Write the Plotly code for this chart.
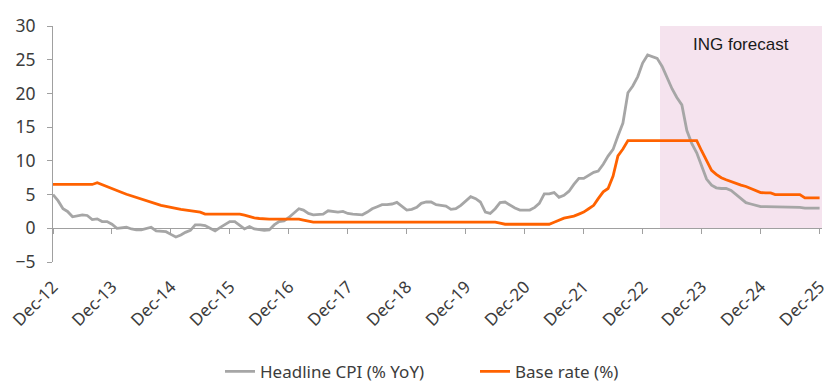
import pandas as pd
import plotly.graph_objects as go

# Monthly dates Dec-2012 .. Dec-2025
dates = pd.date_range("2012-12-01", "2025-12-01", freq="MS")

headline_cpi = [
    5.0,
    4.1, 2.9, 2.5, 1.7, 1.8, 2.0, 1.9, 1.3, 1.4, 1.0, 1.0, 0.6,
    0.0, 0.1, 0.15, -0.1, -0.25, -0.25, 0.0, 0.15, -0.4, -0.5, -0.5, -0.9,
    -1.3, -1.0, -0.6, -0.3, 0.5, 0.5, 0.4, 0.0, -0.4, 0.1, 0.6, 1.0,
    1.0, 0.4, -0.1, 0.25, -0.1, -0.2, -0.3, -0.25, 0.5, 1.0, 1.1, 1.6,
    2.3, 2.9, 2.7, 2.2, 2.0, 2.0, 2.1, 2.6, 2.5, 2.4, 2.5, 2.2,
    2.1, 2.0, 2.0, 2.4, 2.9, 3.2, 3.5, 3.5, 3.6, 3.85, 3.2, 2.7,
    2.8, 3.1, 3.7, 3.9, 3.9, 3.5, 3.4, 3.3, 2.8, 2.9, 3.4, 4.0,
    4.7, 4.4, 3.9, 2.4, 2.2, 2.9, 3.8, 3.9, 3.4, 3.0, 2.7, 2.7,
    2.7, 3.1, 3.7, 5.1, 5.1, 5.3, 4.6, 4.9, 5.5, 6.5, 7.4, 7.4,
    7.9, 8.3, 8.5, 9.5, 10.7, 11.7, 13.7, 15.6, 20.1, 21.1, 22.5, 24.5,
    25.7, 25.4, 25.2, 24.0, 22.3, 20.7, 19.4, 18.3, 14.5, 12.6, 11.2, 9.4,
    7.3, 6.4, 6.0, 5.9, 5.9, 5.6, 5.0, 4.4, 3.8, 3.6, 3.4, 3.2,
    3.2, 3.2, 3.2, 3.2, 3.2, 3.2, 3.2, 3.1, 3.0, 3.0, 3.0, 3.0,
]

base_rate = [
    6.5,
    6.5, 6.5, 6.5, 6.5, 6.5, 6.5, 6.5, 6.5, 6.75, 6.45, 6.1, 5.8,
    5.55, 5.3, 5.05, 4.8, 4.55, 4.3, 4.05, 3.8, 3.6, 3.4, 3.25, 3.05,
    2.95, 2.8, 2.7, 2.6, 2.5, 2.4, 2.1, 2.1, 2.1, 2.1, 2.1, 2.1,
    2.1, 2.1, 1.95, 1.7, 1.55, 1.45, 1.35, 1.35, 1.35, 1.35, 1.35, 1.35,
    1.35, 1.35, 1.2, 1.05, 0.9, 0.9, 0.9, 0.9, 0.9, 0.9, 0.9, 0.9,
    0.9, 0.9, 0.9, 0.9, 0.9, 0.9, 0.9, 0.9, 0.9, 0.9, 0.9, 0.9,
    0.9, 0.9, 0.9, 0.9, 0.9, 0.9, 0.9, 0.9, 0.9, 0.9, 0.9, 0.9,
    0.9, 0.9, 0.9, 0.9, 0.9, 0.9, 0.75, 0.6, 0.6, 0.6, 0.6, 0.6,
    0.6, 0.6, 0.6, 0.6, 0.6, 0.9, 1.2, 1.5, 1.65, 1.8, 2.1, 2.4,
    2.9, 3.4, 4.4, 5.4, 5.9, 7.75, 10.75, 11.75, 13.0, 13.0, 13.0, 13.0,
    13.0, 13.0, 13.0, 13.0, 13.0, 13.0, 13.0, 13.0, 13.0, 13.0, 13.0, 11.5,
    10.0, 8.6, 8.0, 7.5, 7.2, 6.9, 6.6, 6.4, 6.2, 5.9, 5.6, 5.3,
    5.25, 5.25, 5.0, 5.0, 5.0, 5.0, 5.0, 5.0, 4.5, 4.5, 4.5, 4.5,
]

forecast_start = "2023-04-01"
forecast_level = 30

tick_dates = pd.date_range("2012-12-01", "2025-12-01", freq="12MS")
tick_labels = ["Dec-%02d" % (d.year % 100) for d in tick_dates]
y_ticks = [-5, 0, 5, 10, 15, 20, 25, 30]

fc_dates = [d for d in dates if d >= pd.Timestamp(forecast_start)]
fc_vals = [forecast_level] * len(fc_dates)
fc_mid = fc_dates[0] + (fc_dates[-1] - fc_dates[0]) / 2

TXT = "#3c3c3c"
AX = "#a0a0a0"
FONT = "Noto Sans"

fig = go.Figure()
fig.add_trace(go.Bar(
    x=fc_dates, y=fc_vals, width=31 * 24 * 3600 * 1000,
    marker=dict(color="#F5E3EE", line=dict(width=0)),
    showlegend=False, hoverinfo="skip",
))
fig.add_trace(go.Scatter(
    x=dates, y=headline_cpi, mode="lines", name="Headline CPI (% YoY)",
    line=dict(color="#A6A6A6", width=2.8),
))
fig.add_trace(go.Scatter(
    x=dates, y=base_rate, mode="lines", name="Base rate (%)",
    line=dict(color="#FF6200", width=2.8),
))

fig.add_annotation(
    x=fc_mid, y=27.3, text="ING forecast", showarrow=False,
    font=dict(family="Liberation Sans, Arial", size=17, color="#1a1a1a"),
    xanchor="center", yanchor="middle",
)

fig.update_layout(
    width=824, height=382,
    margin=dict(l=53, r=2, t=26, b=120, autoexpand=False),
    paper_bgcolor="white", plot_bgcolor="white",
    bargap=0,
    font=dict(family=FONT, size=17, color=TXT),
    legend=dict(
        orientation="h", x=(220 - 53) / 769, xanchor="left",
        y=-0.465, yanchor="middle",
        font=dict(family=FONT, size=17, color=TXT),
        entrywidth=210, entrywidthmode="pixels",
        traceorder="normal",
    ),
    xaxis=dict(
        type="date",
        range=["2012-12-01", "2025-12-16"],
        anchor="free", position=5 / 35,
        automargin=False,
        showgrid=False, zeroline=False,
        showline=True, linecolor=AX, linewidth=1,
        ticks="outside", ticklen=5, tickcolor=AX, tickwidth=1,
        tickvals=tick_dates, ticktext=tick_labels,
        tickangle=-45, ticklabelstandoff=36, ticklabeloverflow="allow",
        tickfont=dict(family=FONT, size=17, color=TXT),
    ),
    yaxis=dict(
        range=[-5, 30], tickvals=y_ticks,
        automargin=False,
        showgrid=False, zeroline=False,
        showline=True, linecolor=AX, linewidth=1,
        ticks="outside", ticklen=5, tickcolor=AX, tickwidth=1,
        ticklabelstandoff=8,
        tickfont=dict(family=FONT, size=17.5, color=TXT),
    ),
)

fig.write_html("out.html")
